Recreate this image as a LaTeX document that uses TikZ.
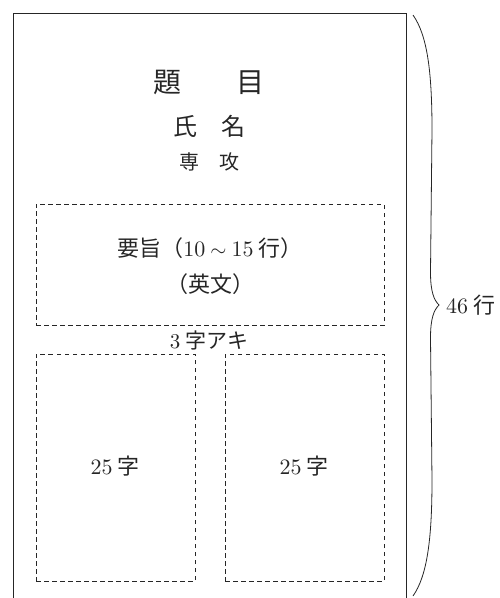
\documentclass[tikz,border=0pt]{standalone}
\usepackage{fontspec}
\setmainfont{lmroman10-regular}[Extension=.otf]
\newfontfamily\cjk{Noto Sans CJK JP}
\newcommand\setfs[1]{\fontsize{#1}{#1}\selectfont}
\newcommand\gp{\hspace{5pt}}
\begin{document}
\begin{tikzpicture}[x=1pt,y=-1pt,
  pageline/.style={line width=0.8pt, black!85},
  dashbox/.style={draw=black!85, dash pattern=on 4.5pt off 3.5pt, line width=0.7pt, inner sep=0pt, outer sep=0pt},
  txt/.style={inner sep=0pt, outer sep=0pt, text=black!85},
  bracepath/.style={line width=0.8pt, black!85}]
\useasboundingbox (0,0) rectangle (500,598);
% page outline (open at the bottom)
\draw[pageline] (13,598) -- (13,13.5) -- (406.5,13.5) -- (406.5,598);
% dashed areas
\node[dashbox, minimum width=348pt, minimum height=121pt] (abs) at (210,264.5) {};
\node[dashbox, minimum width=159pt, minimum height=227pt] (colL) at (115.5,467.5) {};
\node[dashbox, minimum width=159pt, minimum height=227pt] (colR) at (304.5,467.5) {};
% texts
\node[txt] (title) at (209,82) {\setfs{28pt}\cjk 題　　目};
\node[txt] (name) at (209,126) {\setfs{24pt}\cjk 氏　名};
\node[txt] (major) at (209,162) {\setfs{20pt}\cjk 専　攻};
\node[txt] (abst) at (210,248) {\setfs{22pt}{\cjk 要旨（}10\gp$\sim$\gp15\gp{\cjk 行）}};
\node[txt] (eng) at (210,284) {\setfs{22pt}\cjk （英文）};
\node[txt] (gap) at (209,340) {\setfs{21pt}3\gp{\cjk 字アキ}};
\node[txt] (c1) at (115,466) {\setfs{22pt}25\gp{\cjk 字}};
\node[txt] (c2) at (304,466) {\setfs{22pt}25\gp{\cjk 字}};
% brace
\coordinate (btop) at (413,15);
\coordinate (bbot) at (413,596);
\coordinate (tip) at (439,305);
\draw[bracepath] (btop) .. controls (427,35) and (432,70) .. (432,130)
  -- (430.5,272) .. controls (430.5,292) and (434,300) .. (tip)
  .. controls (434,310) and (430.5,318) .. (430.5,338)
  -- (432,480) .. controls (432,540) and (427,576) .. (bbot);
\node[txt, anchor=west] (lines) at (446,305) {\setfs{22pt}46\gp{\cjk 行}};
\end{tikzpicture}
\end{document}
